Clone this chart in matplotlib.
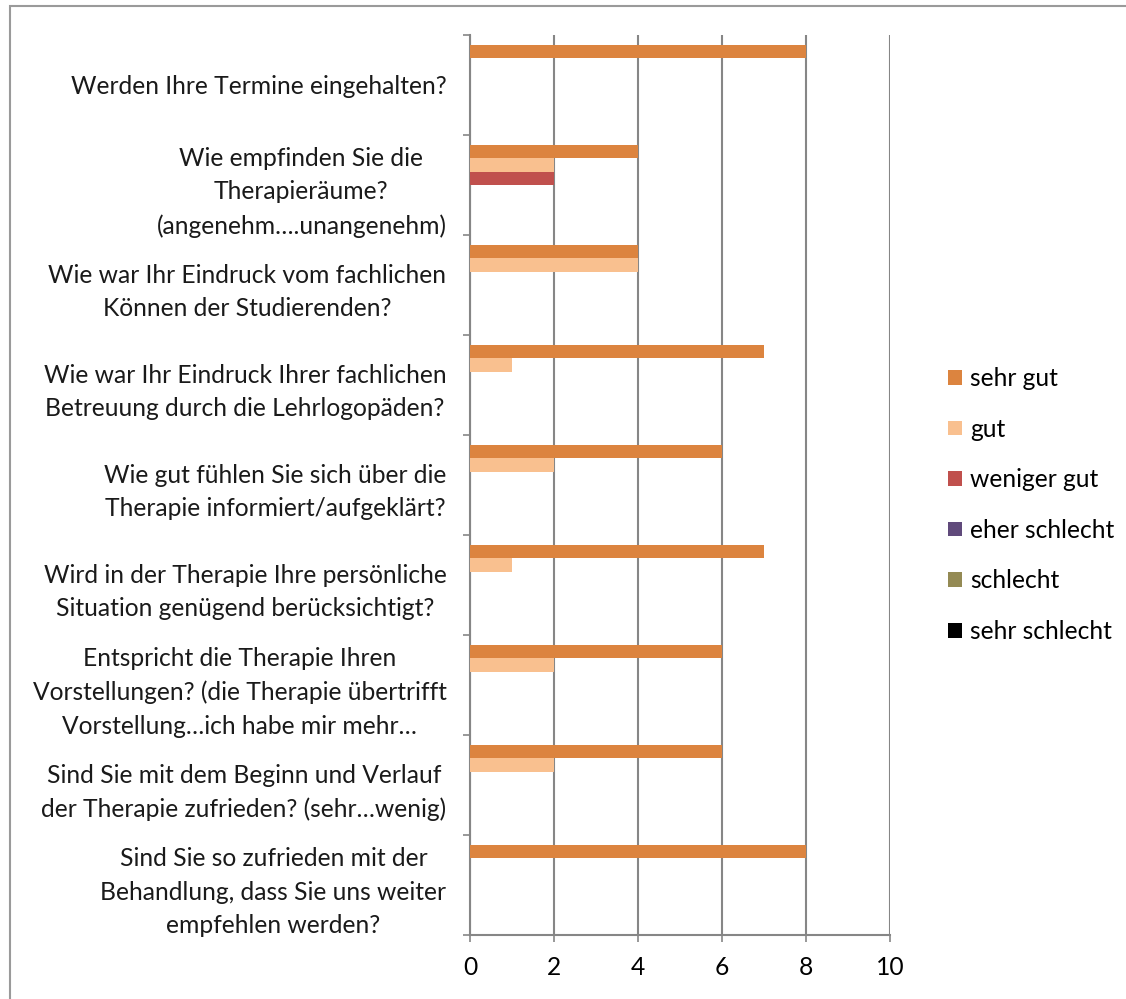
import numpy as np
import matplotlib
matplotlib.use("Agg")
import matplotlib.pyplot as plt
from matplotlib.patches import Rectangle, Patch

plt.rcParams['font.family'] = ['Lato', 'DejaVu Sans']

# categories, top to bottom
questions = [
    "Werden Ihre Termine eingehalten?",
    "Wie empfinden Sie die\nTherapieräume?\n(angenehm….unangenehm)",
    "Wie war Ihr Eindruck vom fachlichen\nKönnen der Studierenden?",
    "Wie war Ihr Eindruck Ihrer fachlichen\nBetreuung durch die Lehrlogopäden?",
    "Wie gut fühlen Sie sich über die\nTherapie informiert/aufgeklärt?",
    "Wird in der Therapie Ihre persönliche\nSituation genügend berücksichtigt?",
    "Entspricht die Therapie Ihren\nVorstellungen? (die Therapie übertrifft\nVorstellung…ich habe mir mehr…",
    "Sind Sie mit dem Beginn und Verlauf\nder Therapie zufrieden? (sehr…wenig)",
    "Sind Sie so zufrieden mit der\nBehandlung, dass Sie uns weiter\nempfehlen werden?",
]

series_names = ["sehr gut", "gut", "weniger gut", "eher schlecht", "schlecht", "sehr schlecht"]
series_colors = ["#DC843F", "#F9C08F", "#C0504D", "#604A7B", "#948A54", "#000000"]

sehr_gut = [8, 4, 4, 7, 6, 7, 6, 6, 8]
gut = [0, 2, 4, 1, 2, 1, 2, 2, 0]
weniger_gut = [0, 2, 0, 0, 0, 0, 0, 0, 0]
eher_schlecht = [0, 0, 0, 0, 0, 0, 0, 0, 0]
schlecht = [0, 0, 0, 0, 0, 0, 0, 0, 0]
sehr_schlecht = [0, 0, 0, 0, 0, 0, 0, 0, 0]
all_series = [sehr_gut, gut, weniger_gut, eher_schlecht, schlecht, sehr_schlecht]

FS = 17.7

fig = plt.figure(figsize=(11.26, 9.99), dpi=100)
ax = fig.add_axes([470 / 1126, 1 - 935 / 999, 420 / 1126, 900 / 999])

n = len(questions)
pos = np.arange(n)
h = 0.8 / len(all_series)
for j, (vals, col) in enumerate(zip(all_series, series_colors)):
    ax.barh(pos - 0.4 + h * (j + 0.5), vals, height=h, color=col, zorder=3)

ax.set_xlim(0, 10)
ax.set_ylim(n - 0.5, -0.5)
ax.set_xticks(np.arange(0, 11, 2))
ax.grid(axis='x', color='#868686', linewidth=1.5, zorder=0)

# slot boundary ticks + question labels as minor ticks
ax.set_yticks(np.arange(n + 1) - 0.5)
ax.set_yticklabels([])
ax.set_yticks(pos, minor=True)
ax.set_yticklabels(questions, minor=True, fontsize=FS, color='#1a1a1a')
for t in ax.get_yticklabels(minor=True):
    t.set_multialignment('center')
    t.set_linespacing(1.55)
ax.tick_params(axis='y', which='minor', length=0, pad=17)
ax.tick_params(axis='y', which='major', length=5, width=1.2, color='#868686')
ax.tick_params(axis='x', length=5, width=1.2, color='#868686', labelsize=FS, pad=10)

for s in ['top', 'right']:
    ax.spines[s].set_visible(False)
for s in ['left', 'bottom']:
    ax.spines[s].set_color('#868686')
    ax.spines[s].set_linewidth(1.5)

handles = [Patch(facecolor=c, edgecolor='none') for c in series_colors]
fig.legend(handles, series_names, loc='center left', bbox_to_anchor=(926 / 1126, 1 - 505 / 999),
           frameon=False, fontsize=FS, handlelength=0.55, handleheight=0.55,
           handletextpad=0.35, labelspacing=1.12)

# chart border
fig.add_artist(Rectangle((10 / 1126, -0.05), 1.2, 1.05 - 6 / 999, transform=fig.transFigure,
                         fill=False, edgecolor='#9a9a9a', linewidth=1.5))

fig.savefig("out.png", dpi=100)
